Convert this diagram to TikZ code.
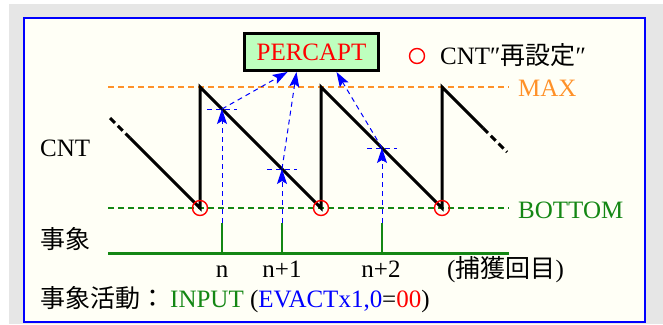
\documentclass[tikz,border=0pt]{standalone}
\usepackage{fontspec}
\setmainfont{Liberation Serif}
\newfontfamily\jpfont{Noto Sans CJK JP}
\usetikzlibrary{arrows.meta}

\definecolor{capgreen}{RGB}{190,255,190}
\definecolor{maxorange}{RGB}{255,145,40}
\definecolor{botgreen}{RGB}{20,135,20}
\definecolor{paper}{RGB}{255,255,246}
\definecolor{frame}{RGB}{230,230,230}

\begin{document}
\begin{tikzpicture}[x=1pt,y=-1pt,
  lbl/.style={font=\fontsize{25}{30}\selectfont,inner sep=0pt},
  saw/.style={line width=3pt,line join=miter},
  trig/.style={blue,line width=1pt,dash pattern=on 5pt off 4pt},
  trigarrow/.style={trig,-{Stealth[length=15pt,width=10pt,inset=3pt]}},
  reload/.style={red,line width=1.4pt}]
\useasboundingbox (0,0) rectangle (663,324);
\fill[frame] (9,4) rectangle (663,324);
\draw[blue,line width=2pt,fill=paper] (24,18) rectangle (645,322);

% reference levels
\draw[maxorange,line width=1.5pt,dash pattern=on 6pt off 4pt] (108,87) -- (509,87);
\draw[botgreen,line width=1.5pt,dash pattern=on 6pt off 4pt] (108,208) -- (509,208);
\node[lbl,anchor=base west,text=maxorange] (maxlbl) at (518,96.7) {MAX};
\node[lbl,anchor=base west,text=botgreen] (botlbl) at (518,218.3) {BOTTOM};

% counter (down-counting sawtooth)
\coordinate (b1) at (200,208); \coordinate (p1) at (200,87);
\coordinate (b2) at (321,208); \coordinate (p2) at (321,87);
\coordinate (b3) at (442,208); \coordinate (p3) at (442,87);
\draw[saw,dash pattern=on 7pt off 4pt] (110,118) -- (130,138);
\draw[saw] (130,138) -- (b1) -- (p1) -- (b2) -- (p2) -- (b3) -- (p3) -- (483,128);
\draw[saw,dash pattern=on 7pt off 4pt] (483,128) -- (507,152);
\foreach \b in {b1,b2,b3}
  \draw[reload] (\b) circle (7.5);
\node[lbl,anchor=base west] (cnt) at (40,156.7) {CNT};

% capture register
\node[draw,line width=3pt,fill=capgreen,minimum width=134pt,minimum height=37pt,
      lbl,text=red] (percapt) at (311.5,52) {PERCAPT};
\draw[reload] (417,56) circle (7.5);
\node[lbl,anchor=base west] (legend) at (440,64.3) {CNT″{\jpfont 再設定}″};

% events
\draw[botgreen,line width=3pt] (108,253) -- (509,253);
\coordinate (t1) at (222,223); \coordinate (c1) at (222,109);
\coordinate (t2) at (282,223); \coordinate (c2) at (282,169);
\coordinate (t3) at (382,223); \coordinate (c3) at (382,148);
\foreach \t in {t1,t2,t3}
  \draw[botgreen,line width=2.5pt] (\t) -- ++(0,30);
\foreach \c in {c1,c2,c3}
  \draw[trig] ([xshift=-15pt]\c) -- ([xshift=15pt]\c);
\draw[trigarrow] (t1) -- (c1);
\draw[trigarrow] (t2) -- (c2);
\draw[trigarrow] (t3) -- (c3);
\draw[trigarrow] (c1) -- ([xshift=-24pt]percapt.south);
\draw[trigarrow] (c2) -- ([xshift=-15pt]percapt.south);
\draw[trigarrow] (c3) -- ([xshift=25pt]percapt.south);
\node[lbl,anchor=west] (event) at (40,239) {\jpfont 事象};
\node[lbl,anchor=base] (n0) at (222,277) {n};
\node[lbl,anchor=base] (n1) at (282,277) {n+1};
\node[lbl,anchor=base] (n2) at (381,277) {n+2};
\node[lbl,anchor=base west] (count) at (447,277) {({\jpfont 捕獲回目})};

% event action
\node[lbl,anchor=base west] (action) at (40,307)
  {{\jpfont 事象活動：}\hspace{5pt}\textcolor{botgreen}{INPUT} (\textcolor{blue}{EVACTx1,0}=\textcolor{red}{00})};
\end{tikzpicture}
\end{document}
